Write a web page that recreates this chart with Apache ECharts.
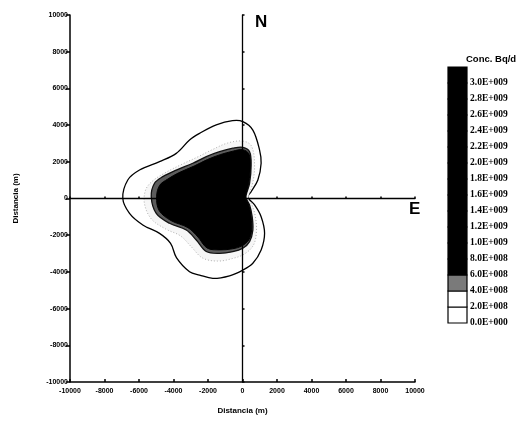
<!DOCTYPE html>
<html>
<head>
<meta charset="utf-8">
<script src="https://cdn.jsdelivr.net/npm/echarts@6/dist/echarts.min.js"></script>
<style>
  html, body { margin: 0; padding: 0; background: #fff; }
  #chart { width: 523px; height: 421px; }
</style>
</head>
<body>
<div id="chart"></div>
<script>
// ---- Data (metres) ----
const axisTicks = [-10000, -8000, -6000, -4000, -2000, 0, 2000, 4000, 6000, 8000, 10000];

// 2.0E+008 contour (outermost solid line)
const contour2e8 = [
  [20, 4190], [600, 3730], [990, 2640], [1080, 1920], [890, 1010], [500, 370], [310, 70],
  [700, -350], [1080, -990], [1280, -1900], [1080, -2810], [600, -3530], [20, -3900],
  [-750, -4210], [-1720, -4350], [-2490, -4170], [-3070, -3990], [-3830, -3220],
  [-4170, -2440], [-4810, -1900], [-5780, -1440], [-6550, -810], [-6940, 10],
  [-6650, 1010], [-5970, 1550], [-4810, 2010], [-3840, 2460], [-3070, 3190],
  [-2490, 3550], [-1520, 4010], [-580, 4240]
];
// 4.0E+008 contour (faint dotted line)
const contour4e8 = [
  [20, 3130], [520, 2860], [700, 1830], [580, 790], [350, 140], [350, -80], [550, -350],
  [750, -1010], [810, -1770], [640, -2530], [120, -3020], [-580, -3270], [-1450, -3410],
  [-2320, -3240], [-2960, -2640], [-3590, -2040], [-4460, -1660], [-5280, -1120],
  [-5680, -300], [-5620, 460], [-5220, 950], [-4410, 1440], [-3480, 1880],
  [-2610, 2260], [-1800, 2640], [-870, 3020]
];
// 6.0E+008 contour (edge of the dark area)
const contour6e8 = [
  [20, 2790], [410, 2550], [500, 1830], [410, 830], [210, 190], [210, 10], [410, -350],
  [560, -990], [600, -1720], [410, -2350], [20, -2710], [-560, -2900], [-1330, -2990],
  [-2100, -2890], [-2680, -2260], [-3260, -1720], [-4230, -1350], [-5000, -810],
  [-5290, 100], [-5100, 830], [-4620, 1190], [-3840, 1550], [-2880, 1920],
  [-2100, 2280], [-1330, 2550], [-560, 2740]
];
// 8.0E+008 and above (black core)
const contour8e8 = [
  [0, 2660], [360, 2450], [450, 1830], [360, 840], [180, 190], [180, -30], [360, -350],
  [500, -1010], [530, -1720], [360, -2260], [-30, -2580], [-580, -2740], [-1330, -2800],
  [-2050, -2700], [-2580, -2100], [-3160, -1590], [-4150, -1200], [-4830, -660],
  [-4980, 90], [-4800, 720], [-4330, 1060], [-3700, 1400], [-2800, 1770],
  [-2040, 2120], [-1290, 2390], [-550, 2580]
];

// Legend (colour scale) labels, bottom to top
const legendLabels = [
  '0.0E+000', '2.0E+008', '4.0E+008', '6.0E+008', '8.0E+008', '1.0E+009', '1.2E+009',
  '1.4E+009', '1.6E+009', '1.8E+009', '2.0E+009', '2.2E+009', '2.4E+009', '2.6E+009',
  '2.8E+009', '3.0E+009'
];
// Legend boxes (bottom to top): shade class of each box
const legendBoxes = ['white', 'white', 'gray', 'black', 'black', 'black', 'black', 'black',
  'black', 'black', 'black', 'black', 'black', 'black', 'black', 'black'];

// ---- Styles ----
const shade = { white: '#ffffff', gray: '#7a7a7a', black: '#000000' };
const contourStyles = [
  { pts: contour2e8, fill: '#ffffff', stroke: '#000', lw: 1.3, dash: null },
  { pts: contour4e8, fill: '#f6f6f6', stroke: '#b0b0b0', lw: 1, dash: [1, 2] },
  { pts: contour6e8, fill: '#5c5c5c', stroke: '#111', lw: 1.3, dash: null },
  { pts: contour8e8, fill: '#000000', stroke: '#000', lw: 1, dash: null }
];

const chart = echarts.init(document.getElementById('chart'), null, { renderer: 'canvas' });
const labelFont = { fontFamily: 'Liberation Sans', fontWeight: 'bold', fontSize: 7, color: '#000' };

function contourSeries(cs, idx) {
  return {
    type: 'custom',
    xAxisIndex: 0, yAxisIndex: 0,
    z: 2 + idx,
    silent: true,
    data: [[0, 0]],
    renderItem: function (params, api) {
      const points = cs.pts.map(p => api.coord(p));
      return {
        type: 'polygon',
        shape: { points: points, smooth: 0.35 },
        style: { fill: cs.fill, stroke: cs.stroke, lineWidth: cs.lw, lineDash: cs.dash }
      };
    }
  };
}

const option = {
  animation: false,
  backgroundColor: '#fff',
  title: {
    text: 'Conc. Bq/d',
    left: 461, top: 49,
    textStyle: { fontFamily: 'Liberation Sans', fontWeight: 'bold', fontSize: 9.5, color: '#000' }
  },
  grid: [
    { left: 70, right: 108, top: 15, bottom: 39, show: false },
    { left: 448, top: 67, width: 19, height: 256, show: false }
  ],
  xAxis: [
    {
      type: 'value', gridIndex: 0, min: -10000, max: 10000, interval: 2000,
      position: 'bottom',
      name: 'Distancia (m)', nameLocation: 'middle', nameGap: 25,
      nameTextStyle: { fontFamily: 'Liberation Sans', fontWeight: 'bold', fontSize: 8, color: '#000' },
      axisLine: { onZero: false, lineStyle: { color: '#000', width: 1.5 } },
      axisTick: { inside: true, length: 3, lineStyle: { color: '#000', width: 1.5 } },
      axisLabel: Object.assign({ margin: 6, formatter: v => String(v) }, labelFont),
      splitLine: { show: false }
    },
    {
      type: 'value', gridIndex: 0, min: -10000, max: 10000, interval: 2000,
      z: 10,
      axisLine: { onZero: true, onZeroAxisIndex: 0, lineStyle: { color: '#000', width: 1.3 } },
      axisTick: { show: true, length: 2, lineStyle: { color: '#000', width: 1.5 } },
      axisLabel: { show: false },
      splitLine: { show: false }
    },
    {
      type: 'value', gridIndex: 1, min: 0, max: 1, show: false
    }
  ],
  yAxis: [
    {
      type: 'value', gridIndex: 0, min: -10000, max: 10000, interval: 2000,
      position: 'left',
      name: 'Distancia (m)', nameLocation: 'middle', nameGap: 50,
      nameTextStyle: { fontFamily: 'Liberation Sans', fontWeight: 'bold', fontSize: 8, color: '#000' },
      axisLine: { onZero: false, lineStyle: { color: '#000', width: 1.5 } },
      axisTick: { length: 4, lineStyle: { color: '#000', width: 1.5 } },
      axisLabel: Object.assign({ margin: 2, formatter: v => String(v) }, labelFont),
      splitLine: { show: false }
    },
    {
      type: 'value', gridIndex: 0, min: -10000, max: 10000, interval: 2000,
      z: 10,
      axisLine: { onZero: true, onZeroAxisIndex: 0, lineStyle: { color: '#000', width: 1.3 } },
      axisTick: { show: true, length: 2, lineStyle: { color: '#000', width: 1.5 } },
      axisLabel: { show: false },
      splitLine: { show: false }
    },
    {
      type: 'value', gridIndex: 1, min: 0, max: legendBoxes.length, interval: 1,
      position: 'right',
      axisLine: { show: false }, axisTick: { show: false }, splitLine: { show: false },
      axisLabel: {
        margin: 3,
        fontFamily: 'Liberation Serif', fontWeight: 'bold', fontSize: 9.5, color: '#000',
        formatter: v => legendLabels[v] || ''
      }
    }
  ],
  graphic: [
    { type: 'text', left: 255, top: 14, style: { text: 'N', fontFamily: 'Liberation Sans', fontWeight: 'bold', fontSize: 17, fill: '#000' } },
    { type: 'text', left: 409, top: 201, style: { text: 'E', fontFamily: 'Liberation Sans', fontWeight: 'bold', fontSize: 17, fill: '#000' } }
  ],
  series: contourStyles.map(contourSeries).concat([
    {
      type: 'custom',
      xAxisIndex: 2, yAxisIndex: 2,
      silent: true,
      data: legendBoxes.map((b, i) => [0, i]),
      renderItem: function (params, api) {
        const k = api.value(1);
        const p0 = api.coord([0, k + 1]);
        const p1 = api.coord([1, k]);
        return {
          type: 'rect',
          shape: { x: p0[0], y: p0[1], width: p1[0] - p0[0], height: p1[1] - p0[1] },
          style: { fill: shade[legendBoxes[k]], stroke: '#000', lineWidth: 1.2 }
        };
      }
    }
  ])
};
chart.setOption(option);
</script>
</body>
</html>
